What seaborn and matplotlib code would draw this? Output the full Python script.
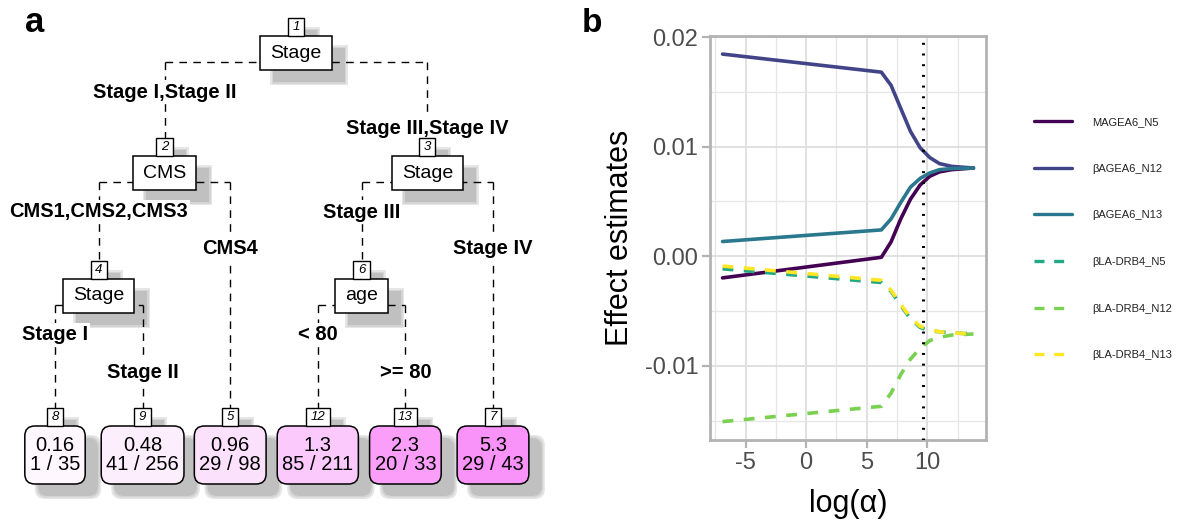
import numpy as np
import pandas as pd
import matplotlib
matplotlib.use("Agg")
import matplotlib.pyplot as plt
import seaborn as sns
from matplotlib.patches import Rectangle, FancyBboxPatch
from matplotlib.lines import Line2D

# ---------------- data: panel b ----------------
log_alpha = [-6.9, 6.2, 7.0, 7.8, 8.6, 9.4, 10.2, 11.0, 12.0, 13.8]
MAGEA6_N5 = [-0.00198, -0.0001, 0.0013, 0.0034, 0.0052, 0.0065, 0.0073, 0.0077, 0.0079, 0.00805]
bAGEA6_N12 = [0.01845, 0.0168, 0.0156, 0.0135, 0.0114, 0.0099, 0.0090, 0.00845, 0.0082, 0.00805]
bAGEA6_N13 = [0.00134, 0.0024, 0.0034, 0.0049, 0.0063, 0.0071, 0.0076, 0.0079, 0.0080, 0.00805]
bLA_DRB4_N5 = [-0.00115, -0.0024, -0.0032, -0.0045, -0.0057, -0.0065, -0.0068, -0.0069, -0.0070, -0.0071]
bLA_DRB4_N12 = [-0.0151, -0.0137, -0.0125, -0.0108, -0.0094, -0.0084, -0.0077, -0.0074, -0.0072, -0.0071]
bLA_DRB4_N13 = [-0.0009, -0.0022, -0.0031, -0.0044, -0.0056, -0.0064, -0.0067, -0.0069, -0.0070, -0.0071]
series_names = ["MAGEA6_N5", "βAGEA6_N12", "βAGEA6_N13",
                "βLA-DRB4_N5", "βLA-DRB4_N12", "βLA-DRB4_N13"]
optimal_log_alpha = 9.6
x_ticks = [-5, 0, 5, 10]
x_tick_labels = ["-5", "0", "5", "10"]
y_ticks = [-0.01, 0.0, 0.01, 0.02]
y_tick_labels = ["-0.01", "0.00", "0.01", "0.02"]

# ---------------- data: panel a (tree) ----------------
node_ids = [1, 2, 3, 4, 6]
node_vars = ["Stage", "CMS", "Stage", "Stage", "age"]
left_child = [2, 4, 6, 8, 12]
right_child = [3, 5, 7, 9, 13]
left_labels = ["Stage I,Stage II", "CMS1,CMS2,CMS3", "Stage III", "Stage I", "< 80"]
right_labels = ["Stage III,Stage IV", "CMS4", "Stage IV", "Stage II", ">= 80"]
leaf_ids = [8, 9, 5, 12, 13, 7]
leaf_rate = ["0.16", "0.48", "0.96", "1.3", "2.3", "5.3"]
leaf_events = [1, 41, 29, 85, 20, 29]
leaf_n = [35, 256, 98, 211, 33, 43]

# ---------------- styles ----------------
FONT = ["Liberation Sans", "DejaVu Sans"]
palette = ["#440154", "#414487", "#2A788E", "#22A884", "#7AD151", "#FDE725"]
leaf_fill = ["#FEF7FE", "#FDEEFD", "#FCE1FC", "#FBC9FB", "#FA9EFA", "#F992F9"]
DASH = (3.0, 2.9)

sns.set_theme(style="white")
plt.rcParams["font.family"] = FONT
plt.rcParams["text.color"] = "black"
plt.rcParams["axes.labelcolor"] = "black"

fig = plt.figure(figsize=(11.77, 5.2), dpi=100)
renderer = fig.canvas.get_renderer()

# ======================= panel a: tree =======================
axT = fig.add_axes([0, 0, 590 / 1177, 1])
axT.set_xlim(0, 590)
axT.set_ylim(520, 0)
axT.axis("off")

leaf_x0, leaf_dx = 55, 87.6
depth_y = [53, 173, 296]
leaf_y = 455
NODE_H, NUM_H, LEAF_H = 34, 18, 58
SH_DX, SH_DY = 13, 12

pos = {}
for i, lid in enumerate(leaf_ids):
    pos[lid] = [leaf_x0 + i * leaf_dx, leaf_y]
depth = {1: 0}
for nid, l, r in zip(node_ids, left_child, right_child):
    depth[l] = depth[nid] + 1
    depth[r] = depth[nid] + 1
for nid, l, r in reversed(list(zip(node_ids, left_child, right_child))):
    pos[nid] = [(pos[l][0] + pos[r][0]) / 2, depth_y[depth[nid]]]


def text_w(t):
    bb = t.get_window_extent(renderer=renderer)
    return bb.width


def shadow(x0, y0, w, h, rounded=False):
    for grow, col in [(3.0, "#E6E6E6"), (1.5, "#D4D4D4"), (0, "#C0C0C0")]:
        if rounded:
            p = FancyBboxPatch((x0 + SH_DX - grow, y0 + SH_DY - grow), w + 2 * grow, h + 2 * grow,
                               boxstyle="round,pad=0,rounding_size=10", fc=col, ec="none", zorder=1)
        else:
            p = Rectangle((x0 + SH_DX - grow, y0 + SH_DY - grow), w + 2 * grow, h + 2 * grow,
                          fc=col, ec="none", zorder=1)
        axT.add_patch(p)


def number_box(x, ybottom, num):
    t = axT.text(x, ybottom - NUM_H / 2, str(num), ha="center", va="center",
                 fontsize=9.5, style="italic", zorder=6)
    w = text_w(t) + 9
    shadow(x - w / 2, ybottom - NUM_H, w, NUM_H)
    axT.add_patch(Rectangle((x - w / 2, ybottom - NUM_H), w, NUM_H, fc="white",
                            ec="black", lw=1.0, zorder=5))


box_top = {}
for nid, var in zip(node_ids, node_vars):
    x, y = pos[nid]
    t = axT.text(x, y, var, ha="center", va="center", fontsize=14, zorder=6)
    w = text_w(t) + 20
    y0 = y - NODE_H / 2
    shadow(x - w / 2, y0, w, NODE_H)
    axT.add_patch(Rectangle((x - w / 2, y0), w, NODE_H, fc="white", ec="black",
                            lw=1.1, zorder=5))
    number_box(x, y0, nid)
    box_top[nid] = y0 - NUM_H

for i, lid in enumerate(leaf_ids):
    x, y = pos[lid]
    t = axT.text(x, y, f"{leaf_rate[i]}\n{leaf_events[i]} / {leaf_n[i]}", ha="center",
                 va="center", fontsize=14.5, linespacing=1.0, zorder=6)
    w = text_w(t) + 10
    y0 = y - LEAF_H / 2
    shadow(x - w / 2, y0, w, LEAF_H, rounded=True)
    axT.add_patch(FancyBboxPatch((x - w / 2, y0), w, LEAF_H,
                                 boxstyle="round,pad=0,rounding_size=10",
                                 fc=leaf_fill[i], ec="black", lw=1.1, zorder=5))
    number_box(x, y0, lid)
    box_top[lid] = y0 - NUM_H

dash_kw = dict(color="black", lw=1.0, linestyle=(0, (5.5, 4.5)), zorder=2)
lab_kw = dict(ha="center", va="center", fontsize=14.5, fontweight="bold", zorder=3,
              bbox=dict(fc="white", ec="none", pad=1.5))
for nid, l, r, ll, rl in zip(node_ids, left_child, right_child, left_labels, right_labels):
    x, y = pos[nid]
    by = y + 9
    xl, xr = pos[l][0], pos[r][0]
    axT.plot([xl, xr], [by, by], **dash_kw)
    axT.plot([xl, xl], [by, box_top[l]], **dash_kw)
    axT.plot([xr, xr], [by, box_top[r]], **dash_kw)
    axT.text(xl, by + 30, ll, **lab_kw)
    axT.text(xr, by + 67, rl, **lab_kw)

fig.text(35 / 1177, 1 - 22 / 520, "a", fontsize=25, fontweight="bold", ha="center", va="center")
fig.text(592 / 1177, 1 - 23 / 520, "b", fontsize=24, fontweight="bold", ha="center", va="center")

# ======================= panel b: lines =======================
ax = fig.add_axes([710 / 1177, 80 / 520, 276 / 1177, (440 - 35.7) / 520])
values = [MAGEA6_N5, bAGEA6_N12, bAGEA6_N13, bLA_DRB4_N5, bLA_DRB4_N12, bLA_DRB4_N13]
df = pd.concat([pd.DataFrame({"log_alpha": log_alpha, "estimate": v, "series": n})
                for n, v in zip(series_names, values)], ignore_index=True)
dashes = {n: ("" if i < 3 else DASH) for i, n in enumerate(series_names)}
sns.lineplot(data=df, x="log_alpha", y="estimate", hue="series", style="series",
             hue_order=series_names, style_order=series_names,
             palette=palette, dashes=dashes, lw=2.6, legend=False, ax=ax, zorder=3)
ax.axvline(optimal_log_alpha, color="black", lw=2.2, linestyle=(0, (0.65, 2.85)), zorder=4)

xr_ = max(log_alpha) - min(log_alpha)
ax.set_xlim(min(log_alpha) - 0.05 * xr_, max(log_alpha) + 0.05 * xr_)
all_v = np.concatenate([np.array(v) for v in values])
yr_ = all_v.max() - all_v.min()
ax.set_ylim(all_v.min() - 0.05 * yr_, all_v.max() + 0.05 * yr_)

ax.set_xticks(x_ticks)
ax.set_xticklabels(x_tick_labels)
ax.set_yticks(y_ticks)
ax.set_yticklabels(y_tick_labels)
ax.set_xticks([-7.5, -2.5, 2.5, 7.5, 12.5], minor=True)
ax.set_yticks([-0.015, -0.005, 0.005, 0.015], minor=True)
ax.grid(True, which="major", color="#DEDEDE", lw=1.3, zorder=0)
ax.grid(True, which="minor", color="#E6E6E6", lw=0.9, zorder=0)
ax.set_axisbelow(True)
for s in ax.spines.values():
    s.set_color("#B3B3B3")
    s.set_linewidth(2.0)
ax.tick_params(which="major", length=5.5, width=1.6, color="#B3B3B3", labelsize=17,
               labelcolor="#4D4D4D", pad=3, left=True, bottom=True)
ax.tick_params(which="minor", length=0)
ax.set_xlabel("log(α)", fontsize=22, labelpad=11, color="black")
ax.set_ylabel("Effect estimates", fontsize=22, labelpad=7, color="black")

handles = [Line2D([0], [0], color=palette[i], lw=2.4,
                  linestyle="-" if i < 3 else (0, DASH)) for i in range(6)]
fig.legend(handles, series_names, loc="upper left", bbox_to_anchor=(1034 / 1177, 1 - 117 / 520),
           frameon=False, fontsize=8, handlelength=3.4, handletextpad=1.8,
           labelspacing=3.3, borderpad=0, borderaxespad=0, labelcolor="#222222")

fig.savefig("out.png", dpi=100)
